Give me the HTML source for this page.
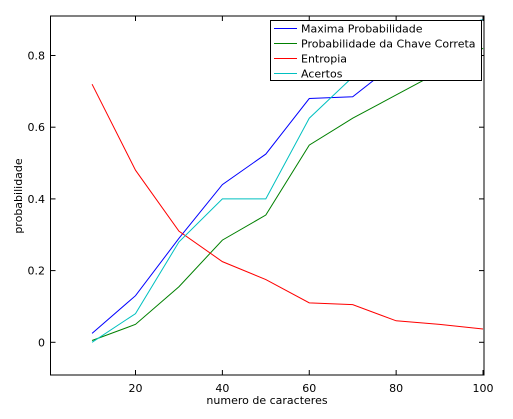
<!DOCTYPE html>
<html><head><meta charset="utf-8"><style>
body{margin:0;background:#fff;}
text{font-family:"DejaVu Sans","Liberation Sans",sans-serif;font-size:11px;fill:#000;}
</style></head><body>
<svg width="513" height="414">
<g id="g"></g>
</svg>
<script>
const xs=[10,20,30,40,50,60,70,80,90,100];
const maxProb=[0.025,0.13,0.29,0.44,0.525,0.68,0.685,0.78,0.86,0.9];
const chave=[0.005,0.05,0.155,0.285,0.355,0.55,0.625,0.69,0.755,0.82];
const entropia=[0.72,0.48,0.31,0.225,0.175,0.11,0.105,0.06,0.05,0.037];
const acertos=[0,0.08,0.28,0.4,0.4,0.625,0.74,0.82,0.87,0.9];
const xTicks=[20,40,60,80,100];
const yTicks=[0,0.2,0.4,0.6,0.8];
const series=[["Maxima Probabilidade",maxProb,"#0000ff"],["Probabilidade da Chave Correta",chave,"#008000"],["Entropia",entropia,"#ff0000"],["Acertos",acertos,"#00c0c0"]];
const L=50.5,R=484,T=16,B=375;
const X=v=>135.5+(v-20)*4.344;
const Y=v=>342.3-v*358.5;
const g=document.getElementById('g');
const NS="http://www.w3.org/2000/svg";
function mk(t,a,p){const e=document.createElementNS(NS,t);for(const k in a)e.setAttribute(k,a[k]);(p||g).appendChild(e);return e;}
const clip=mk('clipPath',{id:'c'});mk('rect',{x:L,y:T,width:R-L,height:B-T},clip);
series.forEach(s=>{
 const p=mk('polyline',{points:xs.map((x,i)=>X(x)+','+Y(s[1][i])).join(' '),fill:'none',stroke:s[2],'stroke-width':1,'clip-path':'url(#c)'});
 
 
});
const fr=mk('rect',{x:L,y:T,width:R-L,height:B-T,fill:'none',stroke:'#000','stroke-width':1});


xTicks.forEach(t=>{
 mk('line',{x1:X(t),x2:X(t),y1:B,y2:B-5,stroke:'#000'});
 mk('line',{x1:X(t),x2:X(t),y1:T,y2:T+5,stroke:'#000'});
 const tx=mk('text',{x:X(t),y:392,'text-anchor':'middle'});tx.textContent=t;
 
 
});
yTicks.forEach(t=>{
 mk('line',{x1:L,x2:L+5,y1:Y(t),y2:Y(t),stroke:'#000'});
 mk('line',{x1:R,x2:R-5,y1:Y(t),y2:Y(t),stroke:'#000'});
 const tx=mk('text',{x:45,y:Y(t)+4,'text-anchor':'end'});tx.textContent=t===0?'0':t.toFixed(1);
 
 
});
const xl=mk('text',{x:267,y:404,'text-anchor':'middle'});xl.textContent='numero de caracteres';


const yl=mk('text',{x:22,y:196,'text-anchor':'middle',transform:'rotate(-90 22 196)'});yl.textContent='probabilidade';


const lg=mk('g',{});


mk('rect',{x:270.5,y:20.5,width:211,height:60,fill:'#fff',stroke:'#000'},lg);
series.forEach((s,i)=>{
 const y=28.5+i*15;
 mk('line',{x1:274,x2:297,y1:y,y2:y,stroke:s[2]},lg);
 const t=mk('text',{x:301,y:y+4},lg);t.textContent=s[0];
 
 
});
</script>
</body></html>
